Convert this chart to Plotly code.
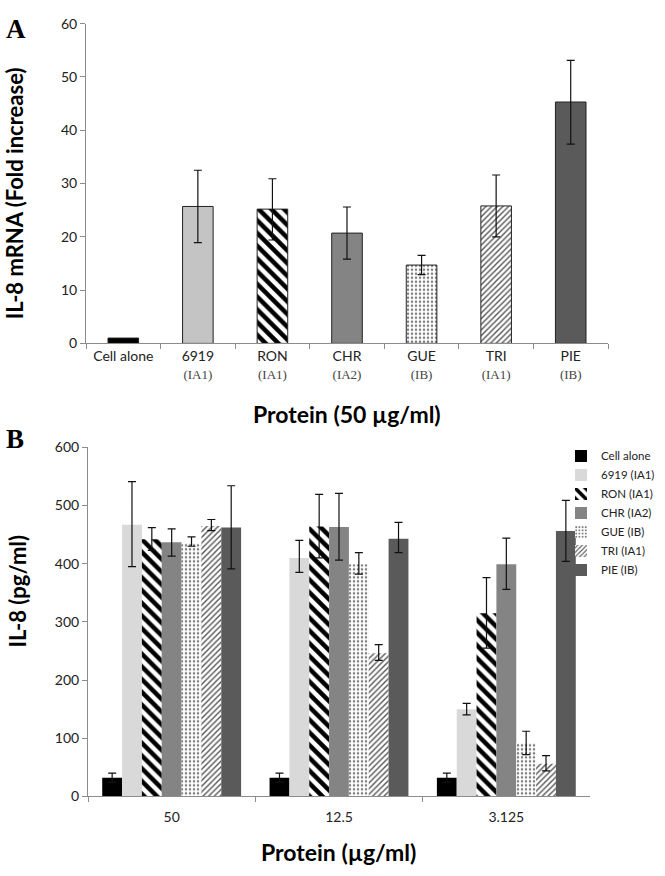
import plotly.graph_objects as go

# ---------------- Panel A data ----------------
a_names = ["Cell alone", "6919", "RON", "CHR", "GUE", "TRI", "PIE"]
a_types = ["", "(IA1)", "(IA1)", "(IA2)", "(IB)", "(IA1)", "(IB)"]
a_values = [1.0, 25.7, 25.2, 20.7, 14.7, 25.8, 45.3]
a_err_top = [1.0, 32.5, 30.9, 25.6, 16.5, 31.6, 53.1]
a_err_bottom = [1.0, 18.9, 19.4, 15.8, 12.9, 20.0, 37.4]

# ---------------- Panel B data ----------------
b_conc = ["50", "12.5", "3.125"]
b_series = ["Cell alone", "6919 (IA1)", "RON (IA1)", "CHR (IA2)", "GUE (IB)", "TRI (IA1)", "PIE (IB)"]
b_values = {
    "Cell alone": [32, 32, 32],
    "6919 (IA1)": [467, 410, 150],
    "RON (IA1)": [442, 464, 315],
    "CHR (IA2)": [437, 463, 399],
    "GUE (IB)": [435, 399, 92],
    "TRI (IA1)": [465, 246, 56],
    "PIE (IB)": [462, 443, 456],
}
b_err_hi = {
    "Cell alone": [8, 8, 8],
    "6919 (IA1)": [74, 30, 10],
    "RON (IA1)": [20, 55, 61],
    "CHR (IA2)": [23, 58, 45],
    "GUE (IB)": [11, 20, 20],
    "TRI (IA1)": [11, 15, 14],
    "PIE (IB)": [72, 28, 53],
}
b_err_lo = {
    "Cell alone": [8, 8, 8],
    "6919 (IA1)": [72, 25, 10],
    "RON (IA1)": [19, 54, 60],
    "CHR (IA2)": [24, 57, 43],
    "GUE (IB)": [5, 17, 20],
    "TRI (IA1)": [8, 12, 12],
    "PIE (IB)": [71, 24, 52],
}

# ---------------- styles ----------------
SANS = "Lato, 'Open Sans', sans-serif"
SERIF = "Liberation Serif"
style = {
    "Cell alone": dict(color="#000000", shape="", fg="#000000", bg="#000000", size=8, sol=0.3),
    "6919": dict(color="#c4c4c4", shape="", fg="#c4c4c4", bg="#c4c4c4", size=8, sol=0.3),
    "RON": dict(color="#ffffff", shape="\\", fg="#000000", bg="#ffffff", size=9, sol=0.5),
    "CHR": dict(color="#848484", shape="", fg="#848484", bg="#848484", size=8, sol=0.3),
    "GUE": dict(color="#ffffff", shape=".", fg="#7a7a7a", bg="#ffffff", size=4, sol=0.3),
    "TRI": dict(color="#ffffff", shape="/", fg="#555555", bg="#ffffff", size=4, sol=0.35),
    "PIE": dict(color="#5a5a5a", shape="", fg="#5a5a5a", bg="#5a5a5a", size=8, sol=0.3),
}
b_color_override = {"6919": "#d9d9d9"}


def pattern_of(st, fg=None, bg=None):
    if not st["shape"]:
        return dict(shape="")
    return dict(shape=st["shape"], fgcolor=fg or st["fg"], bgcolor=bg or st["bg"],
                size=st["size"], solidity=st["sol"], fillmode="replace")


fig = go.Figure()

# Panel A: one trace per category, all sharing one offset group
a_ticktext = []
for n, t in zip(a_names, a_types):
    if t:
        a_ticktext.append(f'{n}<br><span style="font-family:{SERIF};font-size:13px;color:#444444">{t}</span>')
    else:
        a_ticktext.append(n)

for i, n in enumerate(a_names):
    st = style[n]
    hi = a_err_top[i] - a_values[i]
    lo = a_values[i] - a_err_bottom[i]
    fig.add_trace(go.Bar(
        x=[n], y=[a_values[i]], width=0.41, offsetgroup="A",
        marker=dict(color=st["color"], line=dict(color="#222222", width=1),
                    pattern=pattern_of(st)),
        error_y=dict(type="data", symmetric=False, array=[hi], arrayminus=[lo],
                     color="#111111", thickness=1.2, width=4, visible=(hi > 0)),
        showlegend=False, xaxis="x", yaxis="y",
    ))

# Panel B: one trace per series
for s in b_series:
    k = "Cell alone" if s == "Cell alone" else s.split(" ")[0]
    st = style[k]
    col = b_color_override.get(k, st["color"])
    fig.add_trace(go.Bar(
        x=b_conc, y=b_values[s], name=s,
        marker=dict(color=col, line=dict(width=0), pattern=pattern_of(st)),
        error_y=dict(type="data", symmetric=False, array=b_err_hi[s], arrayminus=b_err_lo[s],
                     color="#111111", thickness=1.2, width=4),
        xaxis="x2", yaxis="y2",
    ))

W, H = 665, 876
def px(x): return x / W
def py(y): return 1 - y / H

axis_common = dict(showline=True, linecolor="#8c8c8c", linewidth=1, ticks="outside",
                   tickcolor="#8c8c8c", ticklen=5, showgrid=False, zeroline=False,
                   tickfont=dict(family=SANS, size=14, color="#222222"))

fig.update_layout(
    width=W, height=H,
    margin=dict(l=0, r=0, t=0, b=0),
    paper_bgcolor="white", plot_bgcolor="white",
    barmode="group",
    bargap=0.17, bargroupgap=0,
    xaxis=dict(domain=[px(86), px(608)], anchor="y", type="category",
               categoryorder="array", categoryarray=a_names,
               tickmode="array", tickvals=a_names, ticktext=a_ticktext,
               tickson="boundaries", **axis_common),
    yaxis=dict(domain=[py(341), py(15)], anchor="x", range=[0, 60], dtick=10, **axis_common),
    xaxis2=dict(domain=[px(88), px(590)], anchor="y2", type="category",
                tickson="boundaries", ticklabelstandoff=8, **axis_common),
    yaxis2=dict(domain=[py(803), py(447)], anchor="x2", range=[0, 600], dtick=100, **axis_common),
    legend=dict(x=px(561), y=py(441), xanchor="left", yanchor="top",
                font=dict(family=SANS, size=11.5, color="#222222"),
                bgcolor="rgba(0,0,0,0)", tracegroupgap=0, itemwidth=30,
                borderwidth=0, traceorder="normal"),
    font=dict(family=SANS),
)

ann = [
    dict(text="<b>A</b>", x=px(4), y=py(20), xanchor="left", yanchor="middle",
         font=dict(family=SERIF, size=27, color="black")),
    dict(text="<b>B</b>", x=px(4), y=py(438), xanchor="left", yanchor="middle",
         font=dict(family=SERIF, size=27, color="black")),
    dict(text="<b>IL-8 mRNA (Fold increase)</b>", x=px(14), y=py(188), textangle=-90,
         xanchor="center", yanchor="middle", font=dict(family=SANS, size=22, color="black")),
    dict(text="<b>Protein (50 µg/ml)</b>", x=px(347), y=py(413),
         xanchor="center", yanchor="middle", font=dict(family=SANS, size=23, color="black")),
    dict(text="<b>IL-8 (pg/ml)</b>", x=px(17), y=py(594), textangle=-90,
         xanchor="center", yanchor="middle", font=dict(family=SANS, size=22, color="black")),
    dict(text="<b>Protein (µg/ml)</b>", x=px(338), y=py(860),
         xanchor="center", yanchor="middle", font=dict(family=SANS, size=23, color="black")),
]
for a in ann:
    a.update(xref="paper", yref="paper", showarrow=False)
fig.update_layout(annotations=ann)

fig.write_html(
    "out.html",
    config={"displayModeBar": False},
    post_script="document.body.style.margin='0';document.body.style.overflow='hidden';",
)
